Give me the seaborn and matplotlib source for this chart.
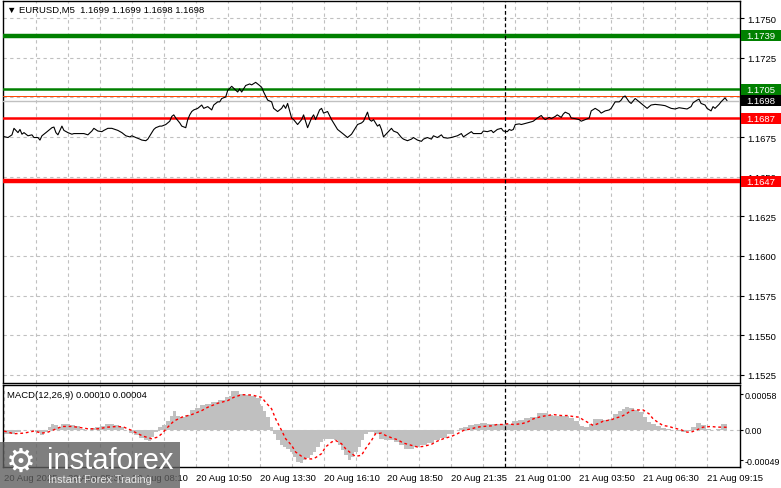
import matplotlib
matplotlib.use("Agg")
import matplotlib.pyplot as plt
import matplotlib.transforms as mtransforms
from matplotlib.patches import Rectangle
import seaborn as sns
import pandas as pd

# EURUSD M5 close (bar index, price)
price_bar = [0, 2, 4, 5, 7, 8, 9, 10, 12, 14, 15, 17, 18, 19, 21, 24, 25, 26, 27, 29,
             30, 32, 34, 35, 38, 40, 42, 44, 45, 47, 49, 50, 52, 54, 57, 59, 61, 63, 64, 66,
             68, 69, 71, 72, 73, 74, 75, 76, 78, 79, 81, 83, 84, 85, 86, 88, 89, 91, 92, 93,
             94, 95, 97, 99, 100, 102, 104, 105, 107, 108, 109, 111, 112, 114, 115, 117, 118, 119, 121, 123,
             124, 126, 127, 128, 129, 130, 132, 134, 135, 137, 139, 140, 141, 142, 144, 145, 147, 149, 150, 152,
             154, 155, 156, 158, 159, 160, 162, 164, 165, 167, 169, 170, 172, 174, 175, 177, 179, 180, 182, 183,
             184, 185, 187, 188, 189, 190, 192, 194, 195, 197, 199, 200, 202, 204, 205, 207, 209, 210, 212, 214,
             215, 217, 219, 220, 222, 224, 225, 227, 229, 230, 232, 234, 235, 237, 239, 240, 242, 244, 245, 247,
             249, 250, 252, 253, 254, 255, 256, 258, 259, 262, 264, 265, 267, 269, 270, 271, 273, 274, 276, 277,
             279, 280, 281, 283, 284, 286, 288, 289, 291, 293, 294, 296, 298, 299, 301, 303, 304, 306, 308, 309,
             310, 311, 313, 314, 316, 317, 319, 320, 322, 323, 324, 326, 329, 331, 334, 336, 338, 340, 342, 344,
             345, 347, 348, 349, 351, 352, 354, 355, 356, 358, 359, 361, 362]
price_val = [1.16753, 1.16747, 1.16764, 1.16805, 1.16778, 1.16798, 1.16768, 1.16778, 1.16758, 1.16764,
             1.16747, 1.16747, 1.16731, 1.16758, 1.16778, 1.16809, 1.16813, 1.16778, 1.16764, 1.16819,
             1.16792, 1.16778, 1.16768, 1.16772, 1.16772, 1.16772, 1.16764, 1.16788, 1.16805, 1.16788,
             1.16784, 1.16792, 1.16805, 1.16805, 1.16792, 1.16778, 1.16758, 1.16751, 1.16758, 1.16747,
             1.16737, 1.16731, 1.16727, 1.16737, 1.16758, 1.16778, 1.16798, 1.16809, 1.16819, 1.16819,
             1.16829, 1.16850, 1.16880, 1.16890, 1.16870, 1.16839, 1.16819, 1.16809, 1.16860, 1.16890,
             1.16911, 1.16921, 1.16931, 1.16952, 1.16931, 1.16942, 1.16921, 1.16952, 1.16972, 1.16972,
             1.16993, 1.17003, 1.17044, 1.17070, 1.17058, 1.17034, 1.17054, 1.17034, 1.17075, 1.17085,
             1.17079, 1.17095, 1.17085, 1.17075, 1.17064, 1.17034, 1.16983, 1.16972, 1.16931, 1.16911,
             1.16931, 1.16952, 1.16931, 1.16962, 1.16870, 1.16860, 1.16829, 1.16860, 1.16890, 1.16809,
             1.16870, 1.16890, 1.16860, 1.16921, 1.16931, 1.16901, 1.16911, 1.16860, 1.16839, 1.16798,
             1.16778, 1.16768, 1.16747, 1.16768, 1.16788, 1.16829, 1.16839, 1.16850, 1.16907, 1.16860,
             1.16850, 1.16860, 1.16819, 1.16829, 1.16798, 1.16751, 1.16778, 1.16805, 1.16788, 1.16778,
             1.16747, 1.16737, 1.16727, 1.16737, 1.16747, 1.16731, 1.16723, 1.16737, 1.16747, 1.16737,
             1.16758, 1.16747, 1.16764, 1.16747, 1.16743, 1.16747, 1.16751, 1.16758, 1.16772, 1.16751,
             1.16768, 1.16784, 1.16772, 1.16772, 1.16772, 1.16788, 1.16784, 1.16792, 1.16778, 1.16798,
             1.16805, 1.16788, 1.16784, 1.16798, 1.16792, 1.16798, 1.16829, 1.16833, 1.16829, 1.16839,
             1.16846, 1.16850, 1.16870, 1.16886, 1.16870, 1.16860, 1.16874, 1.16866, 1.16880, 1.16890,
             1.16874, 1.16895, 1.16907, 1.16895, 1.16870, 1.16866, 1.16860, 1.16850, 1.16860, 1.16870,
             1.16915, 1.16931, 1.16915, 1.16901, 1.16915, 1.16921, 1.16931, 1.16972, 1.16972, 1.16983,
             1.17003, 1.17009, 1.16972, 1.16962, 1.16993, 1.16983, 1.16962, 1.16952, 1.16931, 1.16942,
             1.16952, 1.16956, 1.16952, 1.16948, 1.16931, 1.16927, 1.16935, 1.16931, 1.16927, 1.16942,
             1.16966, 1.16983, 1.16989, 1.16962, 1.16952, 1.16931, 1.16915, 1.16942, 1.16931, 1.16956,
             1.16972, 1.16997, 1.16980]

# MACD(12,26,9) histogram
macd_bar = [0, 4, 7, 10, 14, 17, 19, 21, 23, 24, 26, 28, 29, 32, 34, 37, 39, 42, 44, 47,
            49, 52, 54, 56, 59, 61, 64, 66, 69, 71, 73, 74, 76, 78, 80, 82, 84, 85, 87, 89,
            92, 94, 97, 99, 102, 105, 109, 112, 113, 114, 116, 119, 122, 125, 127, 129, 130, 132, 134, 135,
            137, 139, 140, 142, 144, 145, 147, 149, 150, 152, 154, 155, 157, 159, 160, 162, 164, 166, 168, 169,
            171, 173, 174, 176, 178, 179, 181, 183, 184, 187, 189, 192, 194, 197, 199, 202, 204, 207, 210, 214,
            217, 220, 224, 227, 229, 231, 234, 237, 240, 244, 247, 250, 253, 256, 259, 262, 265, 269, 271, 274,
            276, 279, 282, 284, 287, 289, 292, 294, 296, 299, 301, 304, 306, 309, 310, 312, 314, 317, 319, 321,
            323, 325, 328, 330, 333, 335, 338, 340, 343, 345, 348, 350, 353, 355, 358, 360, 362]
macd_val = [-0.000064, -0.000064, -0.000038, -0.000011, 0.0, -0.000038, -0.000091, -0.000038, 0.000043, 0.000097,
            0.000070, 0.000043, 0.000086, 0.000086, 0.000070, 0.000054, 0.000016, -0.000011, 0.000032, 0.000043,
            0.000054, 0.000086, 0.000097, 0.000070, 0.000043, -0.000011, -0.000054, -0.000091, -0.000129, -0.000172,
            -0.000183, -0.000118, -0.000038, 0.000043, 0.000070, 0.000140, 0.000231, 0.000301, 0.000231, 0.000204,
            0.000247, 0.000322, 0.000354, 0.000408, 0.000419, 0.000446, 0.000483, 0.000526, 0.000553, 0.000634,
            0.000634, 0.000580, 0.000569, 0.000553, 0.000515, 0.000392, 0.000311, 0.000204, 0.000043, -0.000064,
            -0.000172, -0.000252, -0.000279, -0.000306, -0.000360, -0.000440, -0.000521, -0.000537, -0.000494, -0.000451,
            -0.000413, -0.000360, -0.000279, -0.000199, -0.000145, -0.000145, -0.000145, -0.000161, -0.000252, -0.000333,
            -0.000413, -0.000494, -0.000440, -0.000360, -0.000279, -0.000172, -0.000064, -0.000038, -0.000038, -0.000064,
            -0.000145, -0.000172, -0.000172, -0.000199, -0.000252, -0.000306, -0.000306, -0.000279, -0.000252, -0.000215,
            -0.000172, -0.000129, -0.000075, -0.000011, 0.000027, 0.000043, 0.000070, 0.000086, 0.000107, 0.000097,
            0.000097, 0.000086, 0.000097, 0.000140, 0.000161, 0.000193, 0.000215, 0.000269, 0.000269, 0.000247,
            0.000231, 0.000231, 0.000231, 0.000193, 0.000140, 0.000054, 0.000043, 0.000086, 0.000177, 0.000177,
            0.000161, 0.000177, 0.000258, 0.000311, 0.000338, 0.000376, 0.000354, 0.000322, 0.000285, 0.000215,
            0.000124, 0.000086, 0.000054, 0.000032, 0.000016, -0.000011, -0.000021, -0.000038, -0.000021, 0.000043,
            0.000107, 0.000070, 0.000016, -0.000011, 0.000016, 0.000097, 0.000100]

# MACD signal line
sig_bar = [0, 5, 10, 15, 19, 22, 25, 29, 34, 39, 42, 47, 52, 57, 60, 64, 67, 70, 74, 77,
           79, 82, 85, 89, 94, 99, 102, 107, 112, 115, 119, 124, 129, 131, 134, 136, 139, 141, 144, 146,
           149, 151, 154, 156, 159, 161, 164, 166, 169, 171, 174, 176, 179, 181, 184, 186, 189, 191, 194, 197,
           200, 204, 207, 210, 214, 217, 220, 224, 227, 230, 234, 237, 240, 244, 247, 250, 252, 255, 259, 262,
           265, 269, 272, 275, 279, 282, 285, 288, 290, 293, 295, 298, 300, 304, 306, 309, 311, 314, 317, 320,
           323, 325, 328, 330, 333, 335, 339, 342, 344, 347, 350, 354, 357, 360, 362]
sig_val = [-0.000021, -0.000064, -0.000054, -0.000021, -0.000054, -0.000038, 0.0, 0.000054, 0.000054, 0.000032,
           0.000016, 0.000016, 0.000043, 0.000054, 0.000043, -0.000011, -0.000064, -0.000107, -0.000145, -0.000118,
           -0.000064, 0.000043, 0.000140, 0.000204, 0.000247, 0.000311, 0.000365, 0.000430, 0.000473, 0.000526,
           0.000569, 0.000564, 0.000526, 0.000446, 0.000338, 0.000177, -0.000011, -0.000145, -0.000252, -0.000360,
           -0.000430, -0.000467, -0.000473, -0.000451, -0.000387, -0.000279, -0.000199, -0.000172, -0.000226, -0.000306,
           -0.000387, -0.000430, -0.000413, -0.000306, -0.000172, -0.000064, -0.000054, -0.000091, -0.000129, -0.000161,
           -0.000215, -0.000252, -0.000279, -0.000269, -0.000236, -0.000183, -0.000145, -0.000107, -0.000064, -0.000011,
           0.000016, 0.000043, 0.000054, 0.000064, 0.000086, 0.000086, 0.000097, 0.000086, 0.000097, 0.000124,
           0.000177, 0.000215, 0.000231, 0.000247, 0.000231, 0.000231, 0.000215, 0.000204, 0.000161, 0.000107,
           0.000070, 0.000107, 0.000140, 0.000161, 0.000188, 0.000215, 0.000247, 0.000311, 0.000322, 0.000322,
           0.000258, 0.000177, 0.000107, 0.000070, 0.000054, 0.000032, 0.0, -0.000038, -0.000038, 0.0,
           0.000043, 0.000054, 0.000043, 0.000043, 0.000040]

# horizontal levels and their colours
levels = [1.1739, 1.1705, 1.1687, 1.1647]
level_colors = ["#008000", "#008000", "#ff0000", "#ff0000"]
bid = 1.1698
ask = 1.17006

price_ticks = [1.1525, 1.1550, 1.1575, 1.1600, 1.1625, 1.1650, 1.1675, 1.1700, 1.1725, 1.1750]
macd_ticks = [0.00058, 0.0, -0.00049]
macd_tick_labels = ["0.00058", "0.00", "-0.00049"]
time_bars = [0, 32, 64, 96, 128, 160, 192, 224, 256, 288, 320, 352]
time_labels = ["20 Aug 2025", "20 Aug 05:30", "20 Aug 08:10", "20 Aug 10:50", "20 Aug 13:30",
               "20 Aug 16:10", "20 Aug 18:50", "20 Aug 21:35", "21 Aug 01:00", "21 Aug 03:50",
               "21 Aug 06:30", "21 Aug 09:15"]
day_sep = 251

price_df = pd.DataFrame({"bar": price_bar, "close": price_val})
sig_df = pd.DataFrame({"bar": sig_bar, "signal": sig_val})

sns.set_style("white")
plt.rcParams["font.family"] = ["Liberation Sans", "DejaVu Sans"]
FS = 6.8

W, H = 781, 489
fig = plt.figure(figsize=(W / 100, H / 100), dpi=100)


def box(x0, y0, x1, y1):
    return [x0 / W, 1 - y1 / H, (x1 - x0) / W, (y1 - y0) / H]


ax = fig.add_axes(box(3, 2, 740, 384))
ax2 = fig.add_axes(box(3, 386, 740, 467.5))

grid_kw = dict(color="#c0c0c0", linestyle=(0, (3, 3)), linewidth=0.8)
xlim = (-0.5, 368.5)

# --- price panel ---
ax.set_xlim(*xlim)
ax.set_ylim(1.15199, 1.17608)
ax.set_yticks(price_ticks)
ax.set_yticklabels([f"{t:.4f}" for t in price_ticks])
ax.yaxis.tick_right()
ax.tick_params(axis="y", length=3, width=0.8, pad=2, labelsize=FS, colors="black")
ax.set_xticks(range(16, 368, 16))
ax.tick_params(axis="x", length=0, labelbottom=False)
ax.grid(True, **grid_kw)

for lv, c, lw in zip(levels, level_colors, [3.2, 1.8, 1.8, 3.2]):
    ax.axhline(lv, color=c, linewidth=lw, zorder=3)
ax.axhline(ask, color="#ff4500", linewidth=0.7, zorder=3)
ax.axhline(bid, color="#c0c0c0", linewidth=1.0, zorder=3)
sns.lineplot(data=price_df, x="bar", y="close", ax=ax, color="black", linewidth=0.8, zorder=4)
ax.axvline(day_sep, color="black", linestyle=(0, (3, 2)), linewidth=0.9, zorder=5)
ax.set_xlabel("")
ax.set_ylabel("")

ax.text(0.006, 0.977, "▼ EURUSD,M5  1.1699 1.1699 1.1698 1.1698", transform=ax.transAxes,
        fontsize=FS, va="center", ha="left", color="black")

# price tags on the right scale
trans = mtransforms.blended_transform_factory(fig.transFigure, ax.transData)
tag_h = 11 / 382 * (1.17608 - 1.15199)
for lv, c in list(zip(levels, level_colors)) + [(bid, "black")]:
    ax.add_artist(Rectangle((741 / W, lv - tag_h / 2), 40 / W, tag_h, transform=trans,
                            facecolor=c, edgecolor="none", clip_on=False, zorder=10))
    ax.text(746 / W, lv, f"{lv:.4f}", transform=trans, fontsize=FS, color="white",
            va="center", ha="left", clip_on=False, zorder=11)

# --- MACD panel ---
ax2.set_xlim(*xlim)
ax2.set_ylim(-0.000595, 0.000726)
ax2.fill_between(macd_bar, 0, macd_val, step="mid", color="#c0c0c0", linewidth=0, zorder=2)
sns.lineplot(data=sig_df, x="bar", y="signal", ax=ax2, color="red", linewidth=1.0,
             linestyle=(0, (2, 2)), zorder=4)
ax2.axhline(0, **grid_kw, zorder=1)
ax2.axvline(day_sep, color="black", linestyle=(0, (3, 2)), linewidth=0.9, zorder=5)
ax2.set_xticks(time_bars)
ax2.set_xticklabels(time_labels, ha="left")
ax2.set_xticks(range(16, 368, 32), minor=True)
ax2.tick_params(axis="x", which="major", length=3, width=0.8, pad=1.5, labelsize=FS, colors="black")
ax2.tick_params(axis="x", which="minor", length=0)
ax2.grid(True, axis="x", which="both", **grid_kw)
ax2.set_yticks(macd_ticks)
ax2.set_yticklabels(macd_tick_labels)
ax2.yaxis.tick_right()
ax2.tick_params(axis="y", length=2, width=0.8, pad=1, labelsize=6.4, colors="black")
ax2.set_xlabel("")
ax2.set_ylabel("")
ax2.text(0.006, 0.88, "MACD(12,26,9) 0.00010 0.00004", transform=ax2.transAxes,
         fontsize=FS, va="center", ha="left", color="black")

for a in (ax, ax2):
    for s in a.spines.values():
        s.set_color("black")
        s.set_linewidth(1.0)

# watermark
fig.patches.append(Rectangle((0, 0), 180 / W, 46 / H, transform=fig.transFigure,
                             facecolor="#5f5f5f", alpha=0.8, edgecolor="none", zorder=20))
fig.text(6 / W, 1 - 462 / H, "⚙", fontsize=24, color="white", va="center", ha="left",
         family="DejaVu Sans", zorder=21)
fig.text(47 / W, 1 - 461 / H, "instaforex", fontsize=21, color="white", va="center", ha="left", zorder=21)
fig.text(48 / W, 1 - 480 / H, "Instant Forex Trading", fontsize=7.8, color="#e8e8e8",
         va="center", ha="left", zorder=21)

fig.savefig("out.png", dpi=100)
